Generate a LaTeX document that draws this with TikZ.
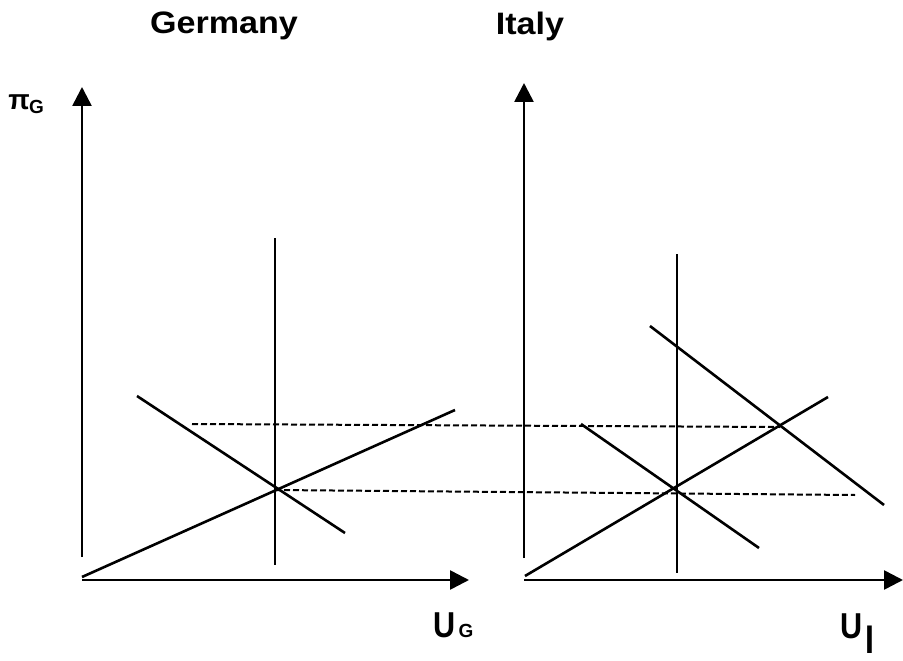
\documentclass[tikz,border=0pt]{standalone}
\usepackage{fontspec}
\setmainfont{Liberation Sans}
\usetikzlibrary{arrows.meta}
\begin{document}
\begin{tikzpicture}[x=1pt,y=-1pt,
  ln/.style={line width=2.6pt},
  axis/.style={line width=2.6pt,-{Triangle[width=19pt,length=19pt]}},
  dsh/.style={line width=2pt,dash pattern=on 6pt off 3pt},
  title/.style={font=\bfseries\fontsize{31}{33}\selectfont,xscale=1.1,inner sep=0pt},
  lab/.style={font=\bfseries\fontsize{36}{38}\selectfont,inner sep=0pt,xscale=0.85},
  sub/.style={font=\bfseries\fontsize{19}{21}\selectfont,inner sep=0pt}]
\useasboundingbox (0,0) rectangle (903,661);
% titles
\node[title] (tG) at (224,26) {Germany};
\node[title] (tI) at (530,26) {Italy};
% Germany axes
\coordinate (gyb) at (82,557); \coordinate (gyt) at (82,87);
\coordinate (gxl) at (82,580); \coordinate (gxr) at (469,580);
\draw[axis] (gyb) -- (gyt);
\draw[axis] (gxl) -- (gxr);
\node[font=\bfseries\fontsize{28}{30}\selectfont,inner sep=0pt] (pi) at (19,102) {π};
\node[sub,anchor=west] (piG) at (29,107) {G};
\node[lab] (UG) at (445,625) {U};
\node[sub] (UGs) at (466,631) {G};
% Germany lines
\coordinate (ga1) at (82,577); \coordinate (ga2) at (455,410);
\coordinate (gb1) at (137,396); \coordinate (gb2) at (345,533);
\coordinate (gv1) at (275,238); \coordinate (gv2) at (275,565);
\draw[ln] (ga1) -- (ga2);
\draw[ln] (gb1) -- (gb2);
\draw[ln] (gv1) -- (gv2);
% dashed
\coordinate (d1a) at (192,424); \coordinate (d1b) at (780,427);
\coordinate (d2a) at (275,490); \coordinate (d2b) at (855,495);
\draw[dsh] (d1a) -- (d1b);
\draw[dsh] (d2a) -- (d2b);
% Italy axes
\coordinate (iyb) at (524,558); \coordinate (iyt) at (524,83);
\coordinate (ixl) at (524,580); \coordinate (ixr) at (903,580);
\draw[axis] (iyb) -- (iyt);
\draw[axis] (ixl) -- (ixr);
\node[lab] (UI) at (852,626) {U};
\node[font=\bfseries\fontsize{40}{42}\selectfont,inner sep=0pt,xscale=0.8] (UIs) at (870,640) {I};
% Italy lines
\coordinate (ia1) at (525,576); \coordinate (ia2) at (828,397);
\coordinate (ib1) at (581,424); \coordinate (ib2) at (759,548);
\coordinate (ic1) at (650,326); \coordinate (ic2) at (884,505);
\coordinate (iv1) at (677,254); \coordinate (iv2) at (677,573);
\draw[ln] (ia1) -- (ia2);
\draw[ln] (ib1) -- (ib2);
\draw[ln] (ic1) -- (ic2);
\draw[ln] (iv1) -- (iv2);
\end{tikzpicture}
\end{document}
